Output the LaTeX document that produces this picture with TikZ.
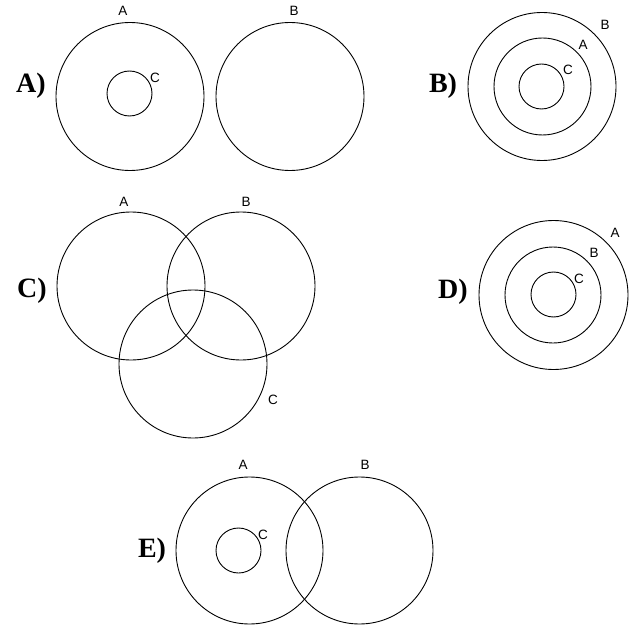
\documentclass[tikz,border=0pt]{standalone}
\usepackage{fontspec}
\setmainfont{Liberation Serif}
\setsansfont{Liberation Sans}
\usetikzlibrary{positioning}
\tikzset{set/.style={circle,draw,line width=0.9pt,inner sep=0pt,minimum size=#1},
  setname/.style={font=\sffamily\fontsize{13.5}{13.5}\selectfont,inner sep=0pt},
  choice/.style={font=\bfseries\fontsize{28}{28}\selectfont,inner sep=0pt}}

\begin{document}
\begin{tikzpicture}[x=1pt,y=-1pt]
\useasboundingbox (0,0) rectangle (637,631);
% A) C inside A, B apart
\node[set=148pt] (aA) at (130,96.5) {};
\node[set=148pt] (aB) at (290,96.5) {};
\node[set=45pt] (aC) at (129.5,93.5) {};
\node[setname] (aAl) at (123,11) {A};
\node[setname] (aBl) at (294,11) {B};
\node[setname] (aCl) at (155,78) {C};
\node[choice] (pA) at (31,86) {A)};
% B) C in A in B
\node[set=148pt] (bB) at (542,86.5) {};
\node[set=97pt] (bA) at (542.5,86.5) {};
\node[set=45pt] (bC) at (541.5,86.5) {};
\node[setname] (bBl) at (605,25) {B};
\node[setname] (bAl) at (583,45) {A};
\node[setname] (bCl) at (568,70) {C};
\node[choice] (pB) at (443,86) {B)};
% C) three overlapping sets
\node[set=148pt] (cA) at (131,286) {};
\node[set=148pt] (cB) at (241,286) {};
\node[set=148pt] (cC) at (193,364) {};
\node[setname] (cAl) at (124,202) {A};
\node[setname] (cBl) at (246,202) {B};
\node[setname] (cCl) at (273,400) {C};
\node[choice] (pC) at (32,291) {C)};
% D) C in B in A
\node[set=149pt] (dA) at (553.5,295) {};
\node[set=96pt] (dB) at (553,295) {};
\node[set=45pt] (dC) at (553.5,294.5) {};
\node[setname] (dAl) at (615,233) {A};
\node[setname] (dBl) at (594,253) {B};
\node[setname] (dCl) at (579,279) {C};
\node[choice] (pD) at (453,292) {D)};
% E) C in A, A and B overlap
\node[set=147pt] (eA) at (249.5,550.5) {};
\node[set=147pt] (eB) at (359.5,550.5) {};
\node[set=45pt] (eC) at (238.5,550.5) {};
\node[setname] (eAl) at (243,465) {A};
\node[setname] (eBl) at (365,465) {B};
\node[setname] (eCl) at (263,535) {C};
\node[choice] (pE) at (152,551) {E)};
\end{tikzpicture}
\end{document}
